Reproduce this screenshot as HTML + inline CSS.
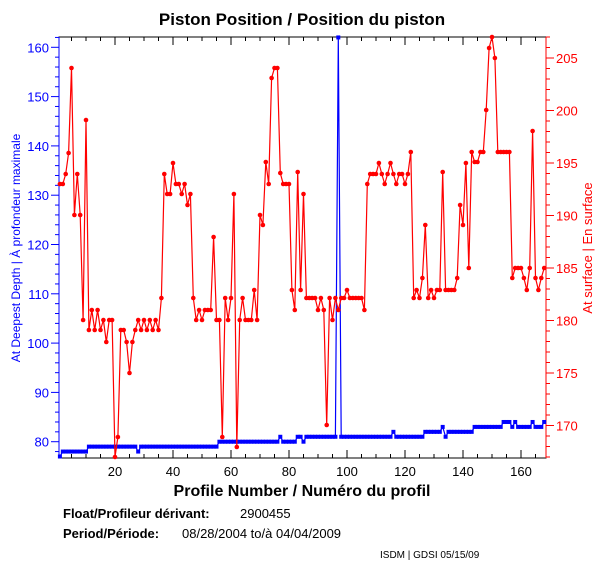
<!DOCTYPE html>
<html><head><meta charset="utf-8"><style>
body{margin:0;background:#fff;}
svg{display:block;font-family:"Liberation Sans",sans-serif;}
</style></head><body>
<svg id="s" width="605" height="576" xmlns="http://www.w3.org/2000/svg">
<rect width="605" height="576" fill="#fff"/>
<text x="302" y="25" font-size="17" font-weight="bold" text-anchor="middle">Piston Position / Position du piston</text>
<g id="ax"></g>
<text x="302" y="496" font-size="16" font-weight="bold" text-anchor="middle">Profile Number / Numéro du profil</text>
<text x="63" y="518" font-size="13" font-weight="bold">Float/Profileur dérivant:</text>
<text x="240" y="518" font-size="13">2900455</text>
<text x="63" y="538" font-size="13" font-weight="bold">Period/Période:</text>
<text x="182" y="538" font-size="13">08/28/2004  to/à  04/04/2009</text>
<text x="380" y="558" font-size="10">ISDM | GDSI 05/15/09</text>
<text transform="translate(20,248) rotate(-90)" font-size="12" fill="#0000ff" text-anchor="middle">At Deepest Depth | À profondeur maximale</text>
<text transform="translate(592,248) rotate(-90)" font-size="13" fill="#ff0000" text-anchor="middle">At surface | En surface</text>
</svg>
<script>
var s=document.getElementById('ax'),NS='http://www.w3.org/2000/svg',h='';
var L=59,R=546,T=37,B=458;
function X(p){return 57+2.9*p;}
function YL(v){return 47.3+(160-v)*4.93;}
function YR(v){return 268+(185-v)*10.5;}
h+='<rect x="'+L+'" y="'+T+'" width="'+(R-L)+'" height="'+(B-T)+'" fill="none" stroke="#000"/>';
for(var p=5;p<=165;p+=5){var x=X(p),l=(p%20==0)?8:4;
h+='<line x1="'+x+'" y1="'+T+'" x2="'+x+'" y2="'+(T+l)+'" stroke="#000"/><line x1="'+x+'" y1="'+B+'" x2="'+x+'" y2="'+(B-l)+'" stroke="#000"/>';
if(p%20==0)h+='<text x="'+x+'" y="'+(B+18)+'" font-size="13" text-anchor="middle">'+p+'</text>';}
h+='<line x1="'+L+'" y1="'+T+'" x2="'+L+'" y2="'+B+'" stroke="#0000ff"/>';
for(var v=78;v<=162;v+=2){var y=YL(v);if(y<T||y>B)continue;var l=(v%10==0)?8:4;
h+='<line x1="'+(L-l)+'" y1="'+y+'" x2="'+L+'" y2="'+y+'" stroke="#0000ff"/>';
if(v%10==0)h+='<text x="'+(L-10)+'" y="'+(y+5)+'" font-size="13" fill="#0000ff" text-anchor="end">'+v+'</text>';}
h+='<line x1="'+R+'" y1="'+T+'" x2="'+R+'" y2="'+B+'" stroke="#ff0000"/>';
for(var v=167;v<=207;v++){var y=YR(v);if(y<T||y>B)continue;var l=(v%5==0)?8:4;
h+='<line x1="'+R+'" y1="'+y+'" x2="'+(R+l)+'" y2="'+y+'" stroke="#ff0000"/>';
if(v%5==0)h+='<text x="'+(R+10)+'" y="'+(y+5)+'" font-size="13" fill="#ff0000">'+v+'</text>';}
// red data (pixel y)
var ry=[184,184,174,153,68,215,174,215,320,120,330,310,330,310,330,320,342,320,320,457,437,330,330,342,373,342,330,320,330,320,330,320,330,320,330,298,174,194,194,163,184,184,194,184,205,194,298,320,310,320,310,310,310,237,320,320,437,298,320,298,194,447,320,298,320,320,320,290,320,215,225,162,184,78,68,68,173,184,184,184,290,310,172,290,194,298,298,298,298,310,298,310,425,298,320,298,310,298,298,290,298,298,298,298,298,310,184,174,174,174,163,174,184,174,163,174,184,174,174,184,174,152,298,290,298,278,225,298,290,298,290,290,172,290,290,290,290,278,205,225,163,268,152,162,162,152,152,110,48,37,58,152,152,152,152,152,278,268,268,268,278,290,268,131,278,290,278,268];
var bl=[77,78,78,78,78,78,78,78,78,78];
for(var p=11;p<=168;p++){var v;
if(p<=27)v=79;else if(p==28)v=78;else if(p<=55)v=79;else if(p<=76)v=80;else if(p==77)v=81;else if(p<=82)v=80;else if(p<=84)v=81;else if(p==85)v=80;else if(p<=96)v=81;else if(p==97)v=162;else if(p<=115)v=81;else if(p==116)v=82;else if(p<=126)v=81;else if(p<=132)v=82;else if(p==133)v=83;else if(p==134)v=81;else if(p<=143)v=82;else if(p<=153)v=83;else if(p<=156)v=84;else if(p==157)v=83;else if(p==158)v=84;else if(p<=163)v=83;else if(p==164)v=84;else if(p<=167)v=83;else v=84;
bl.push(v);}
var pts='',m='';
for(var i=0;i<bl.length;i++){var x=X(i+1),y=YL(bl[i]);pts+=x+','+y+' ';m+='<rect x="'+(x-2)+'" y="'+(y-2)+'" width="4" height="4" fill="#0000ff"/>';}
h+='<polyline points="'+pts+'" fill="none" stroke="#0000ff" stroke-width="1.2"/>'+m;
pts='';m='';
for(var i=0;i<ry.length;i++){var x=X(i+1),y=ry[i];pts+=x+','+y+' ';m+='<circle cx="'+x+'" cy="'+y+'" r="2.3" fill="#ff0000"/>';}
h+='<polyline points="'+pts+'" fill="none" stroke="#ff0000" stroke-width="1.2"/>'+m;
s.innerHTML=h;
</script>
</body></html>
